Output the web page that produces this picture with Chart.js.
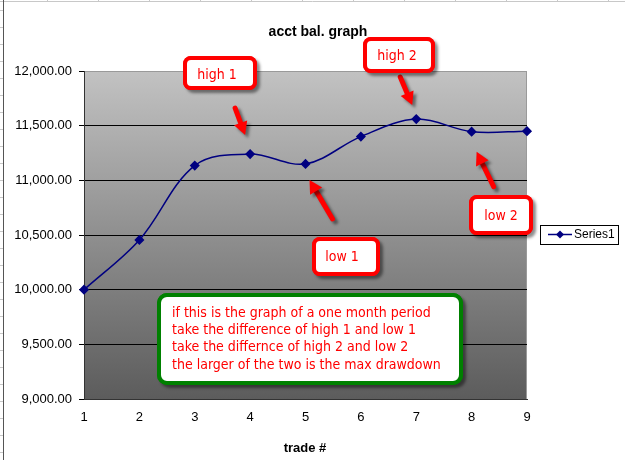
<!DOCTYPE html>
<html>
<head>
<meta charset="utf-8">
<script src="https://cdn.jsdelivr.net/npm/chart.js@4.4.0/dist/chart.umd.min.js"></script>
<style>
  html, body { margin: 0; padding: 0; background: #fff; }
  #wrap { width: 625px; height: 460px; }
</style>
</head>
<body>
<div id="wrap"><canvas id="chart" width="625" height="460"></canvas></div>
<script>
const trades = ["1", "2", "3", "4", "5", "6", "7", "8", "9"];
const balance = [10000, 10455, 11135, 11240, 11150, 11400, 11560, 11445, 11450];
const yMin = 9000;
const yMax = 12000;
const yStep = 500;
const seriesName = "Series1";

const NAVY = "#000080";
const RED = "#ff0000";
const NOTE_FONT = "14px 'DejaVu Sans Condensed', 'DejaVu Sans', sans-serif";

// callout boxes (pixels), arrows hang off the data point they point at
const callouts = [
  { text: "high 1", box: [185, 58, 70, 30], tx: 217, ty: 75 },
  { text: "high 2", box: [365, 39, 68, 32], tx: 397, ty: 56 },
  { text: "low 1", box: [314, 239, 64, 35], tx: 342, ty: 257 },
  { text: "low 2", box: [471, 197, 60, 36], tx: 501, ty: 216 },
];
const arrows = [
  { index: 3, tip: [-5, -19], tail: [-15, -46] },
  { index: 6, tip: [-4, -14], tail: [-16, -42] },
  { index: 4, tip: [4, 16], tail: [27, 55] },
  { index: 7, tip: [5, 20], tail: [22, 55] },
];
const noteLines = [
  "if this is the graph of a one month period",
  "take the difference of high 1 and low 1",
  "take the differnce of high 2 and low 2",
  "the larger of the two is the max drawdown",
];

function shadowOn(ctx) {
  ctx.shadowColor = "rgba(0,0,0,0.45)";
  ctx.shadowOffsetX = 3;
  ctx.shadowOffsetY = 3;
  ctx.shadowBlur = 3;
}

function drawBox(ctx, b, color, r) {
  ctx.save();
  shadowOn(ctx);
  ctx.beginPath();
  ctx.roundRect(b[0] - 2, b[1] - 2, b[2] + 4, b[3] + 4, r + 2);
  ctx.fillStyle = color;
  ctx.fill();
  ctx.restore();
  ctx.save();
  ctx.beginPath();
  ctx.roundRect(b[0], b[1], b[2], b[3], r);
  ctx.fillStyle = "#fff";
  ctx.fill();
  ctx.lineWidth = 4;
  ctx.strokeStyle = color;
  ctx.stroke();
  ctx.restore();
}

function drawArrow(ctx, x0, y0, x1, y1) {
  const ang = Math.atan2(y1 - y0, x1 - x0);
  const headLen = 13, half = 7;
  const bx = x1 - Math.cos(ang) * headLen;
  const by = y1 - Math.sin(ang) * headLen;
  ctx.save();
  shadowOn(ctx);
  ctx.strokeStyle = RED;
  ctx.fillStyle = RED;
  ctx.lineWidth = 5;
  ctx.lineCap = "round";
  ctx.beginPath();
  ctx.moveTo(x0, y0);
  ctx.lineTo(bx, by);
  ctx.stroke();
  ctx.beginPath();
  ctx.moveTo(x1, y1);
  ctx.lineTo(bx + Math.sin(ang) * half, by - Math.cos(ang) * half);
  ctx.lineTo(bx - Math.sin(ang) * half, by + Math.cos(ang) * half);
  ctx.closePath();
  ctx.fill();
  ctx.restore();
}

const excelLook = {
  id: "excelLook",
  beforeDraw(chart) {
    const { ctx, chartArea: a } = chart;
    ctx.save();
    ctx.fillStyle = "#fff";
    ctx.fillRect(0, 0, chart.width, chart.height);
    // spreadsheet edges peeking out
    ctx.strokeStyle = "#c8c8c8";
    ctx.lineWidth = 1;
    ctx.beginPath();
    ctx.moveTo(0, 1.5); ctx.lineTo(chart.width, 1.5);
    for (let x = 47; x < chart.width; x += 51) { ctx.moveTo(x + 0.5, 0); ctx.lineTo(x + 0.5, 2); }
    for (let y = 10; y < chart.height; y += 17) { ctx.moveTo(0, y + 0.5); ctx.lineTo(3, y + 0.5); }
    ctx.stroke();
    ctx.strokeStyle = "#555";
    ctx.beginPath();
    ctx.moveTo(3.5, 0); ctx.lineTo(3.5, chart.height);
    ctx.stroke();
    // plot area gradient
    const g = ctx.createLinearGradient(0, a.top, 0, a.bottom);
    g.addColorStop(0, "#c2c2c2");
    g.addColorStop(1, "#5c5c5c");
    ctx.fillStyle = g;
    ctx.fillRect(a.left, a.top, a.right - a.left, a.bottom - a.top);
    ctx.strokeStyle = "#9a9a9a";
    ctx.strokeRect(a.left + 0.5, a.top + 0.5, a.right - a.left - 1, a.bottom - a.top);
    ctx.restore();
  },
  afterDraw(chart) {
    const { ctx } = chart;
    const xs = chart.scales.x, ys = chart.scales.y;
    ctx.save();
    // titles
    ctx.fillStyle = "#000";
    ctx.textAlign = "center";
    ctx.textBaseline = "middle";
    ctx.font = "bold 14px 'Liberation Sans', Arial, sans-serif";
    ctx.fillText("acct bal. graph", 318, 32);
    ctx.font = "bold 13px 'Liberation Sans', Arial, sans-serif";
    ctx.fillText("trade #", 305, 448);

    // legend
    ctx.strokeStyle = "#000";
    ctx.lineWidth = 1;
    ctx.strokeRect(540.5, 225.5, 78, 19);
    ctx.strokeStyle = NAVY;
    ctx.lineWidth = 1.5;
    ctx.beginPath(); ctx.moveTo(548, 234.5); ctx.lineTo(572, 234.5); ctx.stroke();
    ctx.fillStyle = NAVY;
    ctx.beginPath();
    ctx.moveTo(560, 230.5); ctx.lineTo(564, 234.5); ctx.lineTo(560, 238.5); ctx.lineTo(556, 234.5);
    ctx.closePath(); ctx.fill();
    ctx.fillStyle = "#000";
    ctx.textAlign = "left";
    ctx.font = "12px 'Liberation Sans', Arial, sans-serif";
    ctx.fillText(seriesName, 574, 235);

    // arrows
    arrows.forEach(ar => {
      const px = xs.getPixelForValue(ar.index);
      const py = ys.getPixelForValue(balance[ar.index]);
      drawArrow(ctx, px + ar.tail[0], py + ar.tail[1], px + ar.tip[0], py + ar.tip[1]);
    });

    // callouts
    ctx.font = NOTE_FONT;
    callouts.forEach(c => {
      drawBox(ctx, c.box, RED, 6);
      ctx.fillStyle = RED;
      ctx.textAlign = "center";
      ctx.textBaseline = "middle";
      ctx.fillText(c.text, c.tx, c.ty);
    });

    // note box
    drawBox(ctx, [159, 295, 302, 88], "#008000", 8);
    ctx.fillStyle = RED;
    ctx.textAlign = "left";
    ctx.textBaseline = "middle";
    noteLines.forEach((line, i) => ctx.fillText(line, 172, 313 + i * 17.3));
    ctx.restore();
  },
};

new Chart(document.getElementById("chart"), {
  type: "line",
  data: {
    labels: trades,
    datasets: [{
      label: seriesName,
      data: balance,
      borderColor: NAVY,
      backgroundColor: NAVY,
      borderWidth: 1.5,
      tension: 0.35,
      pointStyle: "rectRot",
      pointRadius: 4,
      pointHoverRadius: 4,
      pointBackgroundColor: NAVY,
      pointBorderColor: NAVY,
      clip: false,
    }],
  },
  options: {
    responsive: false,
    animation: false,
    devicePixelRatio: 1,
    layout: { padding: { top: 71, right: 98, bottom: 0, left: 0 } },
    plugins: {
      legend: { display: false },
      title: { display: false },
      tooltip: { enabled: false },
    },
    scales: {
      x: {
        offset: false,
        grid: { display: false, drawTicks: false },
        border: { display: true, color: "#333" },
        ticks: {
          color: "#000",
          padding: 11,
          maxRotation: 0,
          font: { family: "'Liberation Sans', Arial, sans-serif", size: 13 },
        },
        afterFit(scale) { scale.height = 61; },
      },
      y: {
        min: yMin,
        max: yMax,
        ticks: {
          stepSize: yStep,
          color: "#000",
          padding: 7,
          font: { family: "'Liberation Sans', Arial, sans-serif", size: 13 },
          callback: v => v.toLocaleString("en-US", { minimumFractionDigits: 2, maximumFractionDigits: 2 }),
        },
        grid: {
          color: c => (c.tick && c.tick.value === yMax ? "rgba(0,0,0,0)" : "#000"),
          tickColor: "#000",
          tickLength: 5,
          lineWidth: 1,
        },
        border: { display: true, color: "#333" },
        afterFit(scale) { scale.width = 84; },
      },
    },
  },
  plugins: [excelLook],
});
</script>
</body>
</html>
